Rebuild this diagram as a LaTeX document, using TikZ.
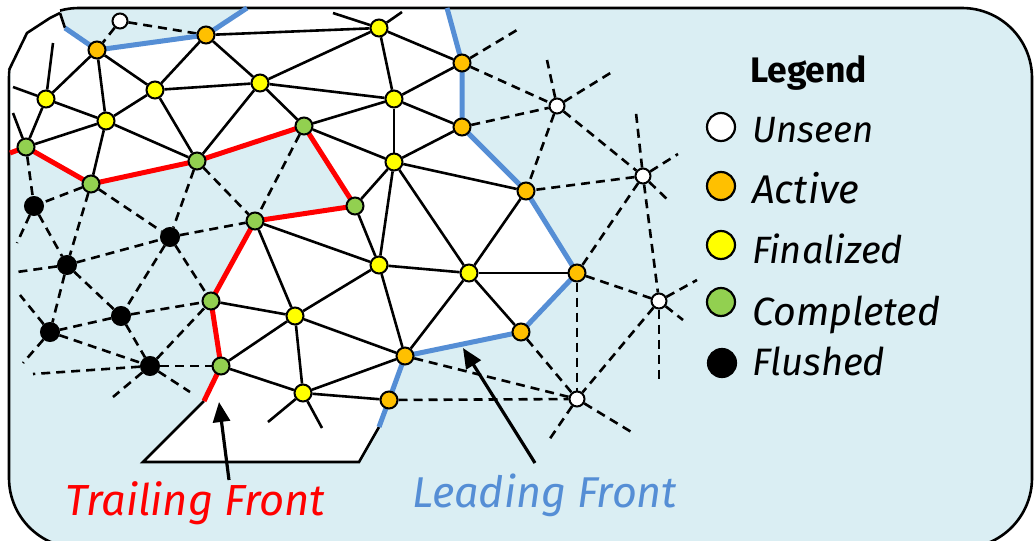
\documentclass[tikz,border=0pt]{standalone}
\usepackage{fontspec}
\setmainfont{Fira Sans}
\usetikzlibrary{arrows.meta}
\definecolor{bgblue}{HTML}{DAEEF3}
\definecolor{actcol}{HTML}{FFC000}
\definecolor{fincol}{HTML}{FFFF00}
\definecolor{comcol}{HTML}{92D050}
\definecolor{frontblue}{HTML}{558ED5}
\definecolor{frontred}{HTML}{FF0000}
\pgfdeclarelayer{back}
\pgfdeclarelayer{mid}
\pgfsetlayers{back,mid,main}
\begin{document}
\begin{tikzpicture}[x=1pt,y=-1pt,
 mnode/.style={circle,draw=black,line width=2pt,inner sep=0pt,minimum size=17pt},
 unseen/.style={mnode,fill=white,minimum size=15pt},
 active/.style={mnode,fill=actcol},
 final/.style={mnode,fill=fincol},
 compl/.style={mnode,fill=comcol},
 flushed/.style={mnode,fill=black,minimum size=18pt},
 solidedge/.style={line width=2.6pt},
 dashedge/.style={line width=2.6pt,dash pattern=on 9pt off 6pt},
 redfront/.style={line width=5pt,frontred},
 bluefront/.style={line width=5pt,frontblue},
 outline/.style={line width=2.6pt},
 legdot/.style={circle,draw=black,line width=2.2pt,inner sep=0pt,minimum size=28pt},
 legtext/.style={anchor=base west,inner sep=0pt,font=\itshape\fontsize{34}{40}\selectfont},
 callout/.style={line width=3.2pt,-{Triangle[length=20pt,width=17pt]}}]
\useasboundingbox (0,0) rectangle (1034,541);

% ---------- mesh nodes ----------
\node[unseen] (u1) at (120,21) {};
\node[unseen] (u2) at (557,106) {};
\node[unseen] (u3) at (643,176) {};
\node[unseen] (u4) at (659,301) {};
\node[unseen] (u5) at (577,399) {};

\node[active] (a1) at (97,50) {};
\node[active] (a2) at (206,35) {};
\node[active] (a3) at (462,63) {};
\node[active] (a4) at (462,127) {};
\node[active] (a5) at (526,191) {};
\node[active] (a6) at (577,273) {};
\node[active] (a7) at (521,332) {};
\node[active] (a8) at (405,356) {};
\node[active] (a9) at (389,400) {};

\node[final] (f1) at (46,99) {};
\node[final] (f2) at (106,121) {};
\node[final] (f3) at (155,90) {};
\node[final] (f4) at (260,83) {};
\node[final] (f5) at (379,28) {};
\node[final] (f6) at (394,99) {};
\node[final] (f7) at (394,162) {};
\node[final] (f8) at (379,265) {};
\node[final] (f9) at (469,273) {};
\node[final] (f10) at (295,316) {};
\node[final] (f11) at (303,393) {};

\node[compl] (c1) at (26,147) {};
\node[compl] (c2) at (91,184) {};
\node[compl] (c3) at (197,161) {};
\node[compl] (c4) at (304,126) {};
\node[compl] (c5) at (355,206) {};
\node[compl] (c6) at (255,221) {};
\node[compl] (c7) at (211,301) {};
\node[compl] (c8) at (221,366) {};

\node[flushed] (k1) at (34,206) {};
\node[flushed] (k2) at (67,265) {};
\node[flushed] (k3) at (170,237) {};
\node[flushed] (k4) at (121,316) {};
\node[flushed] (k5) at (50,332) {};
\node[flushed] (k6) at (150,366) {};

% ---------- free ends ----------
\coordinate (s1) at (13,87);
\coordinate (s2) at (53,43);
\coordinate (s3) at (13,113);
\coordinate (s4) at (333,13);
\coordinate (s5) at (402,12);
\coordinate (s6) at (268,422);
\coordinate (s7) at (322,428);
\coordinate (s8) at (517,30);
\coordinate (s9) at (547,60);
\coordinate (s10) at (612,72);
\coordinate (s11) at (636,113);
\coordinate (s12) at (678,154);
\coordinate (s13) at (670,202);
\coordinate (s14) at (697,280);
\coordinate (s15) at (683,320);
\coordinate (s16) at (659,383);
\coordinate (s17) at (549,440);
\coordinate (s18) at (633,433);
\coordinate (s19) at (17,243);
\coordinate (s20) at (17,272);
\coordinate (s21) at (20,295);
\coordinate (s22) at (23,363);
\coordinate (s23) at (33,374);
\coordinate (s24) at (113,397);
\coordinate (s25) at (190,392);
\coordinate (rs) at (10,153);
\coordinate (re) at (204,401);
\coordinate (bs1) at (65,28);
\coordinate (be1) at (247,8);
\coordinate (bs2) at (447,8);
\coordinate (be2) at (379,427);
\coordinate (p1) at (60,13);
\coordinate (p2) at (50,18);
\coordinate (p3) at (27,33);
\coordinate (p4) at (9,70);
\coordinate (q1) at (143,462);
\coordinate (q2) at (359,462);

% ---------- background ----------
\begin{pgfonlayer}{back}
\draw[fill=bgblue,line width=2.6pt,rounded corners=70pt] (9,8) rectangle (1032,548);
\fill[white] (p1) -- (p2) -- (p3) -- (10.5,70) -- (10.5,153) -- (c1.center) -- (c2.center) -- (c3.center) -- (c4.center) -- (c5.center) -- (c6.center) -- (c7.center) -- (c8.center) -- (re) -- (q1) -- (q2) -- (be2) -- (a9.center) -- (a8.center) -- (a7.center) -- (a6.center) -- (a5.center) -- (a4.center) -- (a3.center) -- (447,9.5) -- (247,9.5) -- (a2.center) -- (a1.center) -- (bs1) -- cycle;
\fill[white] (0,0) -- (59,0) -- (p1) -- (p2) -- (p3) -- (p4) -- (0,70) -- cycle;
\draw[outline] (p1) -- (p2) -- (p3) -- (p4);
\draw[outline] (p1) -- (bs1);
\draw[outline] (re) -- (q1) -- (q2) -- (be2);
\end{pgfonlayer}

% ---------- edges ----------
\begin{pgfonlayer}{mid}
\foreach \a/\b in {a1/f1,a1/f2,a1/f3,a2/f3,a2/f4,a2/f5,f1/f2,f1/c1,f1/s1,f1/s2,c1/s3,
  f2/f3,f2/c1,f2/c2,f2/c3,f3/f4,f3/c3,f4/c3,f4/f5,f4/f6,f4/c4,f5/f6,f5/a3,f5/s4,f5/s5,
  f6/a3,f6/a4,f6/c4,f6/f7,c4/f7,f7/a4,f7/a5,f7/c5,f7/f8,f7/f9,c5/f8,c6/f8,c6/f10,
  f8/f9,f8/f10,f8/a8,f9/a5,f9/a6,f9/a7,f9/a8,f10/a8,f10/c7,f10/c8,f10/f11,a8/f11,
  c8/f11,f11/a9,f11/s6,f11/s7}
  \draw[solidedge] (\a) -- (\b);
\foreach \a/\b in {u1/a1,u1/a2,a3/s8,a3/u2,a4/u2,u2/s9,u2/s10,u2/a5,u2/u3,
  u3/a5,u3/s11,u3/s12,u3/s13,u3/a6,u3/u4,a6/u4,a6/u5,u4/s14,u4/s15,u4/s16,u4/u5,
  a7/u5,a8/u5,a9/u5,u5/s17,u5/s18,c4/c6,c3/c6,c3/k3,c1/k1,c2/k1,c2/k2,c2/k3,
  k1/s19,k1/k2,k2/s20,k2/k3,k2/k4,k2/k5,k3/c6,k3/k4,k3/c7,k4/c7,k4/k5,k4/k6,
  k5/s21,k5/s22,k5/k6,k6/c7,k6/c8,k6/s23,k6/s24,k6/s25}
  \draw[dashedge] (\a) -- (\b);
\draw[redfront] (rs) -- (c1.center) -- (c2.center) -- (c3.center) -- (c4.center) -- (c5.center) -- (c6.center) -- (c7.center) -- (c8.center) -- (re);
\draw[bluefront] (bs1) -- (a1.center) -- (a2.center) -- (be1);
\draw[bluefront] (bs2) -- (a3.center) -- (a4.center) -- (a5.center) -- (a6.center) -- (a7.center) -- (a8.center) -- (a9.center) -- (be2);
\end{pgfonlayer}

% ---------- callouts ----------
\coordinate (tt) at (229,480);
\coordinate (th) at (219,402);
\coordinate (lt) at (535,463);
\coordinate (lh) at (463,348);
\draw[callout] (tt) -- (th);
\draw[callout] (lt) -- (lh);
\node[anchor=base west,inner sep=0pt,text=frontred] (trail) at (65,515)
  {\resizebox{260pt}{!}{\itshape\fontsize{40}{44}\selectfont Trailing Front}};
\node[anchor=base west,inner sep=0pt,text=frontblue] (lead) at (412,507)
  {\resizebox{265pt}{!}{\itshape\fontsize{40}{44}\selectfont Leading Front}};

% ---------- legend ----------
\node[anchor=base west,inner sep=0pt] (legt) at (750,82)
  {\resizebox{117pt}{!}{\bfseries\fontsize{34}{40}\selectfont Legend}};
\node[legdot,fill=white] (lu) at (721,127) {};
\node[legdot,fill=actcol] (la) at (721,186) {};
\node[legdot,fill=fincol] (lf) at (721,245) {};
\node[legdot,fill=comcol] (lc) at (721,302) {};
\node[legdot,fill=black] (lk) at (722,363) {};
\node[legtext] (tu) at (752,142) {\resizebox{121pt}{!}{Unseen}};
\node[legtext] (ta) at (752,203) {\resizebox{107pt}{!}{Active}};
\node[legtext] (tf) at (752,263) {\resizebox{151pt}{!}{Finalized}};
\node[legtext] (tc) at (752,325) {\resizebox{188pt}{!}{Completed}};
\node[legtext] (tk) at (752,375) {\resizebox{133pt}{!}{Flushed}};
\end{tikzpicture}
\end{document}
